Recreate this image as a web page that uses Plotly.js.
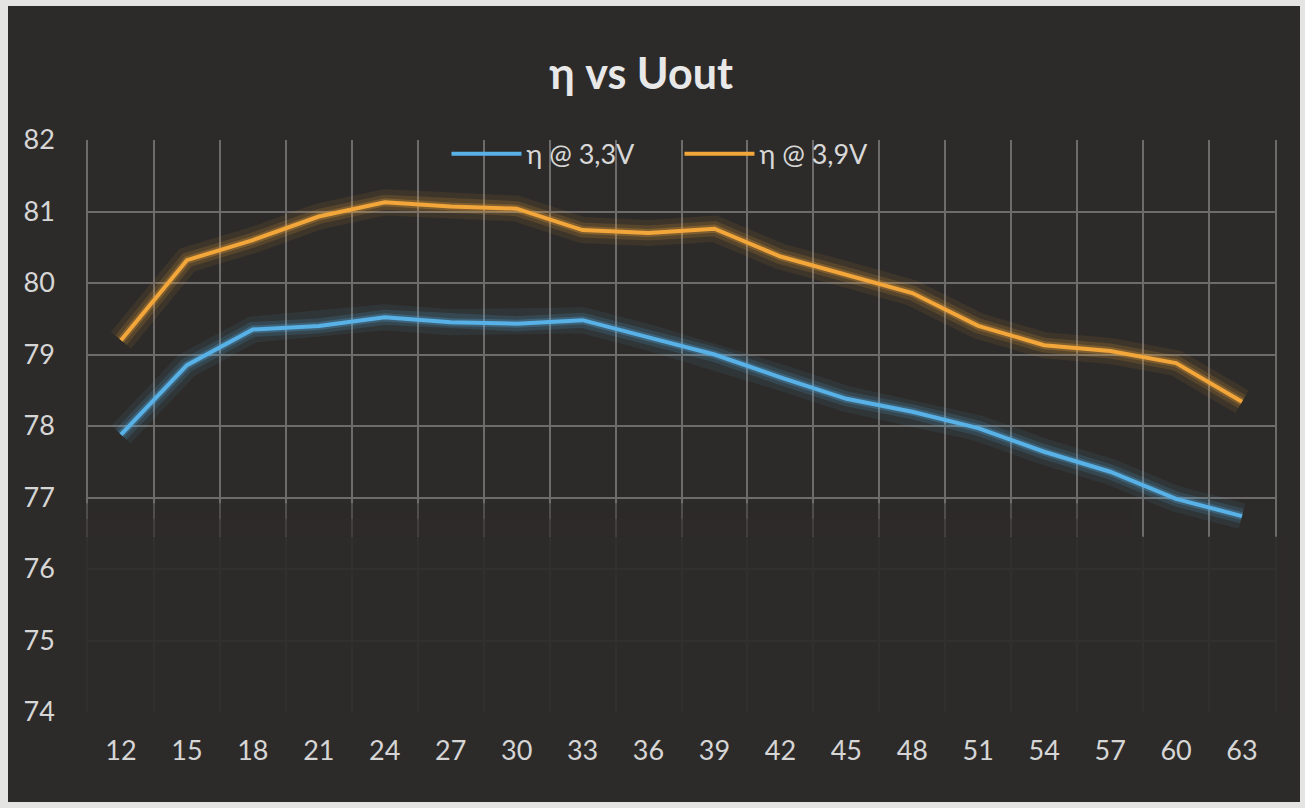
<!DOCTYPE html>
<html>
<head>
<meta charset="utf-8">
<script src="https://cdn.plot.ly/plotly-3.1.0.min.js"></script>
<style>
  html, body { margin: 0; padding: 0; background: #e4e4e2; }
  #chart { position: absolute; left: 8px; top: 6px; width: 1292px; height: 796px; }
</style>
</head>
<body>
<div id="chart"></div>
<script>
// output voltage categories (V)
const uout = ["12", "15", "18", "21", "24", "27", "30", "33", "36",
              "39", "42", "45", "48", "51", "54", "57", "60", "63"];

// efficiency (%)
const eta33 = [77.88, 78.85, 79.35, 79.4, 79.52, 79.45, 79.43, 79.48, 79.24,
               79.0, 78.68, 78.38, 78.2, 77.97, 77.64, 77.36, 76.98, 76.74];
const eta39 = [79.2, 80.32, 80.6, 80.93, 81.13, 81.07, 81.04, 80.74, 80.7,
               80.76, 80.37, 80.12, 79.86, 79.4, 79.13, 79.05, 78.88, 78.34];

const blue = "#58b2e8";
const orange = "#f3a63a";
const bg = "#2d2b29";
const grid = "#6e6c6a";

function glow(y, color, width, opacity) {
    return {
        type: "scatter", mode: "lines", x: uout, y: y,
        line: { color: color, width: width },
        opacity: opacity, hoverinfo: "skip", showlegend: false
    };
}

const data = [
    glow(eta33, blue, 26, 0.08),
    glow(eta33, blue, 15, 0.14),
    glow(eta33, blue, 8, 0.25),
    glow(eta39, orange, 26, 0.08),
    glow(eta39, orange, 15, 0.14),
    glow(eta39, orange, 8, 0.25),
    {
        type: "scatter", mode: "lines", name: "η @ 3,3V",
        x: uout, y: eta33,
        line: { color: blue, width: 4 }
    },
    {
        type: "scatter", mode: "lines", name: "η @ 3,9V",
        x: uout, y: eta39,
        line: { color: orange, width: 4 }
    }
];

// fading of the grid towards the bottom, as in the photo
const fade = [
    [73.95, 76.45, 0.93, 1.005],
    [76.45, 76.7, 0.7, 0.88],
    [76.7, 76.92, 0.45, 0.88]
];

const layout = {
    width: 1292,
    height: 796,
    paper_bgcolor: bg,
    plot_bgcolor: bg,
    margin: { l: 80, r: 25, t: 134, b: 90 },
    font: { family: "Lato, 'Open Sans', sans-serif", color: "#dcdcdc" },
    title: {
        text: "<b>η vs Uout</b>",
        font: { size: 43, color: "#e8e8e8" },
        xref: "container", x: 0.49, xanchor: "center",
        yref: "container", y: 0.915, yanchor: "middle"
    },
    showlegend: true,
    legend: {
        orientation: "h",
        x: 0.302, xanchor: "left",
        y: 0.975, yanchor: "middle",
        bgcolor: "rgba(0,0,0,0)",
        itemwidth: 70,
        entrywidth: 148,
        entrywidthmode: "pixels",
        font: { size: 27, color: "#d8d8d8" },
        traceorder: "normal"
    },
    xaxis: {
        type: "category",
        range: [-0.5, 17.5],
        tickson: "boundaries",
        showgrid: true,
        gridcolor: grid,
        gridwidth: 1.5,
        ticks: "",
        ticklabelstandoff: 20,
        tickfont: { size: 27, color: "#d6d6d6" },
        showline: false,
        zeroline: false
    },
    yaxis: {
        range: [74, 82],
        dtick: 1,
        showgrid: true,
        gridcolor: grid,
        gridwidth: 1.5,
        ticks: "",
        ticklabelstandoff: 26,
        tickfont: { size: 27, color: "#d6d6d6" },
        showline: true,
        mirror: true,
        linecolor: grid,
        linewidth: 1.5,
        zeroline: false
    },
    shapes: fade.map(f => ({
        type: "rect", layer: "above", xref: "paper", yref: "y",
        x0: -0.005, x1: f[3], y0: f[0], y1: f[1],
        fillcolor: bg, opacity: f[2], line: { width: 0 }
    }))
};

Plotly.newPlot("chart", data, layout, { displayModeBar: false, responsive: false });
</script>
</body>
</html>
